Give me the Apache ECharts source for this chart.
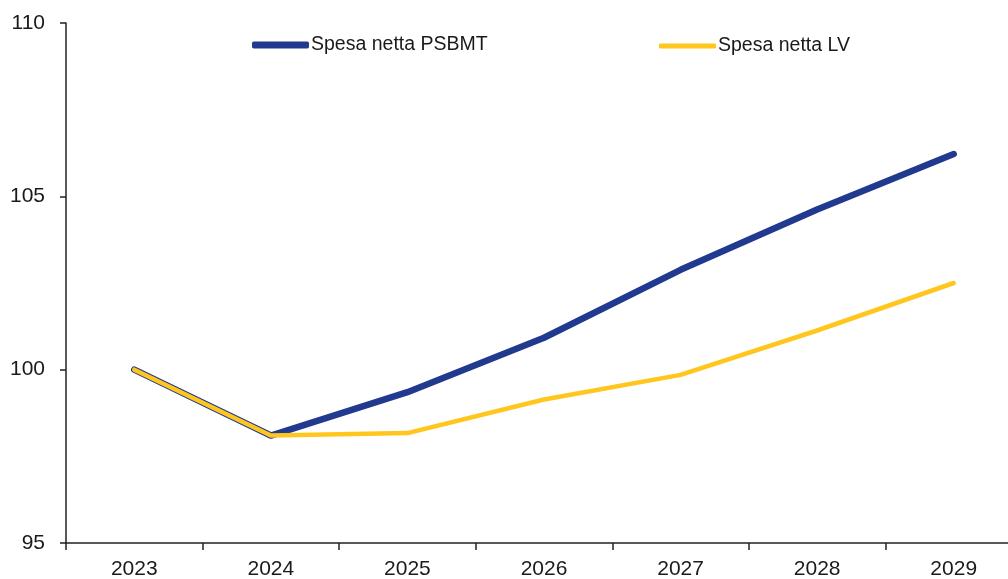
<!DOCTYPE html>
<html>
<head>
<meta charset="utf-8">
<script src="https://cdn.jsdelivr.net/npm/echarts@6/dist/echarts.min.js"></script>
<style>html,body{margin:0;padding:0;background:#fff}#c{width:1008px;height:579px}</style>
</head>
<body>
<div id="c"></div>
<script>
const categories = ['2023','2024','2025','2026','2027','2028','2029'];
const psbmt = [100, 98.1, 99.35, 100.92, 102.88, 104.62, 106.22];
const lv = [100, 98.1, 98.17, 99.14, 99.85, 101.13, 102.5];
const seriesNames = ['Spesa netta PSBMT', 'Spesa netta LV'];
const yMin = 95, yMax = 110, yStep = 5;

const BLUE = '#213A8F', YELLOW = '#FFC61E', FONT = 'Liberation Sans, Arial, sans-serif';
const chart = echarts.init(document.getElementById('c'), null, {renderer: 'canvas'});
const legendBase = {
  top: 35, itemWidth: 57, icon: 'roundRect', padding: 0,
  textStyle: {fontFamily: FONT, fontSize: 19.5, color: '#1a1a1a', padding: [0,0,0,-3]}
};
chart.setOption({
  animation: false,
  backgroundColor: '#fff',
  grid: {left: 66, right: -14, top: 23, bottom: 36, containLabel: false, outerBoundsMode: 'none'},
  legend: [
    Object.assign({}, legendBase, {left: 252, itemHeight: 7, data: [{name: seriesNames[0], itemStyle: {color: BLUE}}]}),
    Object.assign({}, legendBase, {left: 659, top: 36, itemHeight: 5, data: [{name: seriesNames[1], itemStyle: {color: YELLOW}}]})
  ],
  xAxis: {
    type: 'category', data: categories, boundaryGap: true,
    axisLine: {lineStyle: {color: '#222', width: 1.5}},
    axisTick: {show: true, length: 7, lineStyle: {color: '#222', width: 1.5}},
    axisLabel: {fontFamily: FONT, fontSize: 21, color: '#1a1a1a', margin: 16}
  },
  yAxis: {
    type: 'value', min: yMin, max: yMax, interval: yStep,
    splitLine: {show: false},
    axisLine: {show: true, lineStyle: {color: '#222', width: 1.5}},
    axisTick: {show: true, length: 6, lineStyle: {color: '#222', width: 1.5}},
    axisLabel: {fontFamily: FONT, fontSize: 21, color: '#1a1a1a', margin: 21}
  },
  series: [
    {name: seriesNames[0], type: 'line', data: psbmt, symbol: 'none', color: BLUE,
     lineStyle: {color: BLUE, width: 6.5, cap: 'round', join: 'round'}},
    {name: seriesNames[1], type: 'line', data: lv, symbol: 'none', color: YELLOW,
     lineStyle: {color: YELLOW, width: 4.5, cap: 'round', join: 'round'}}
  ]
});
</script>
</body>
</html>
